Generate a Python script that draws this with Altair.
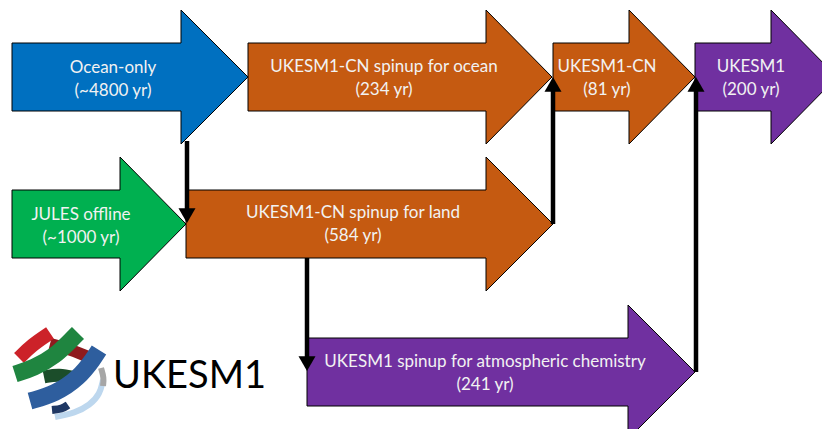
import altair as alt
import pandas as pd

# ---------------- data ----------------
line1 = ["Ocean-only", "UKESM1-CN spinup for ocean", "UKESM1-CN", "UKESM1",
         "JULES offline", "UKESM1-CN spinup for land",
         "UKESM1 spinup for atmospheric chemistry"]
line2 = ["(~4800 yr)", "(234 yr)", "(81 yr)", "(200 yr)",
         "(~1000 yr)", "(584 yr)", "(241 yr)"]
arrow_colors = ["#0070C0", "#C55A11", "#C55A11", "#7030A0",
                "#00B050", "#C55A11", "#7030A0"]
arrow_start = [12, 248, 553, 695, 12, 186, 307]
arrow_head = [181, 486, 629, 771, 120, 486, 628]
arrow_tip = [248, 552, 695, 837, 186, 553, 695]
arrow_mid_y = [77, 77, 77, 77, 224, 224, 372]
label_x = [113, 384, 607, 751, 81, 353, 485]
label_y = [68, 67, 67, 67, 215, 213, 362]
BODY_HALF = 34
HEAD_HALF = 67

conn_x = [187, 553, 307, 696]
conn_from = [141, 224, 258, 372]
conn_tip = [223, 77, 371, 77]
CONN_HEAD_W = 17

logo_text = "UKESM1"
ribbon_colors = ["#BDD7EE", "#A6A6A6", "#8E1A1E", "#CC2229", "#1B4D2A",
                 "#1F8540", "#1F3864", "#2E5E9E"]
ribbon_widths = [6, 6, 12, 14, 13, 17, 8, 17]
ribbon_points = [
    [(103, 380), (100, 394), (90, 405), (75, 413), (55, 417)],
    [(101, 368), (104, 378), (103, 386)],
    [(50, 344), (70, 349), (93, 359)],
    [(19, 358), (32, 345), (50, 333)],
    [(44, 377), (59, 374), (76, 378)],
    [(15, 374), (34, 368), (55, 356), (70, 341), (78, 333)],
    [(52, 410), (62, 409), (68, 405)],
    [(30, 401), (55, 394), (79, 378), (94, 358), (99, 350)],
]

# ---------------- scales ----------------
XS = alt.Scale(domain=[8, 822], nice=False, zero=False)
YS = alt.Scale(domain=[8, 429], nice=False, zero=False, reverse=True)

# arrow polygons
rows = []
for i in range(len(line1)):
    yc = arrow_mid_y[i]
    pts = [
        (arrow_start[i], yc - BODY_HALF, yc + BODY_HALF),
        (arrow_head[i], yc - BODY_HALF, yc + BODY_HALF),
        (arrow_head[i], yc - HEAD_HALF, yc + HEAD_HALF),
        (arrow_tip[i], yc, yc),
    ]
    for x, y, y2 in pts:
        rows.append({"arrow": i, "x": x, "y": y, "y2": y2, "color": arrow_colors[i]})
arrows_df = pd.DataFrame(rows)

arrows = alt.Chart(arrows_df).mark_area(
    stroke="black", strokeWidth=1, clip=True, interpolate="linear", opacity=1
).encode(
    x=alt.X("x:Q", scale=XS, axis=None),
    y=alt.Y("y:Q", scale=YS, axis=None, stack=None),
    y2="y2:Q",
    color=alt.Color("color:N", scale=None),
    detail="arrow:N",
)

labels_df = pd.DataFrame({
    "x": label_x, "y": label_y,
    "label": [a + "\n" + b for a, b in zip(line1, line2)],
})
labels = alt.Chart(labels_df).mark_text(
    font="Lato", fontSize=17, color="#F2F2F2", lineBreak="\n", lineHeight=23,
    align="center", baseline="middle"
).encode(
    x=alt.X("x:Q", scale=XS, axis=None),
    y=alt.Y("y:Q", scale=YS, axis=None),
    text="label:N",
)

# connectors
h = 0.866 * CONN_HEAD_W
crow = []
prow = []
for x, f, t in zip(conn_x, conn_from, conn_tip):
    d = 1 if t > f else -1
    crow.append({"x": x, "y": f, "y2": t - d * h * 0.7})
    prow.append({"x": x, "y": t - d * h / 2,
                 "shape": "triangle-down" if d > 0 else "triangle-up"})
rules = alt.Chart(pd.DataFrame(crow)).mark_rule(strokeWidth=4.5, color="black").encode(
    x=alt.X("x:Q", scale=XS, axis=None),
    y=alt.Y("y:Q", scale=YS, axis=None),
    y2="y2:Q",
)
heads = alt.Chart(pd.DataFrame(prow)).mark_point(
    filled=True, color="black", size=CONN_HEAD_W ** 2, opacity=1, strokeWidth=0
).encode(
    x=alt.X("x:Q", scale=XS, axis=None),
    y=alt.Y("y:Q", scale=YS, axis=None),
    shape=alt.Shape("shape:N", scale=None),
)

# logo
layers = [arrows, labels, rules, heads]
for k, pts in enumerate(ribbon_points):
    df = pd.DataFrame({"x": [p[0] for p in pts], "y": [p[1] for p in pts],
                       "i": list(range(len(pts)))})
    layers.append(
        alt.Chart(df).mark_line(
            color=ribbon_colors[k], strokeWidth=ribbon_widths[k],
            interpolate="basis", strokeCap="butt"
        ).encode(
            x=alt.X("x:Q", scale=XS, axis=None),
            y=alt.Y("y:Q", scale=YS, axis=None),
            order="i:O",
        )
    )

logo = alt.Chart(pd.DataFrame({"x": [113], "y": [388], "t": [logo_text]})).mark_text(
    font="Lato", fontSize=38, color="black", align="left", baseline="alphabetic"
).encode(
    x=alt.X("x:Q", scale=XS, axis=None),
    y=alt.Y("y:Q", scale=YS, axis=None),
    text="t:N",
)
layers.append(logo)

chart = alt.layer(*layers).properties(
    width=814, height=421, padding=0, background="white",
    autosize=alt.AutoSizeParams(type="none"),
).configure_view(stroke=None)

chart.save("out.html", embed_options={"renderer": "svg", "actions": False})
